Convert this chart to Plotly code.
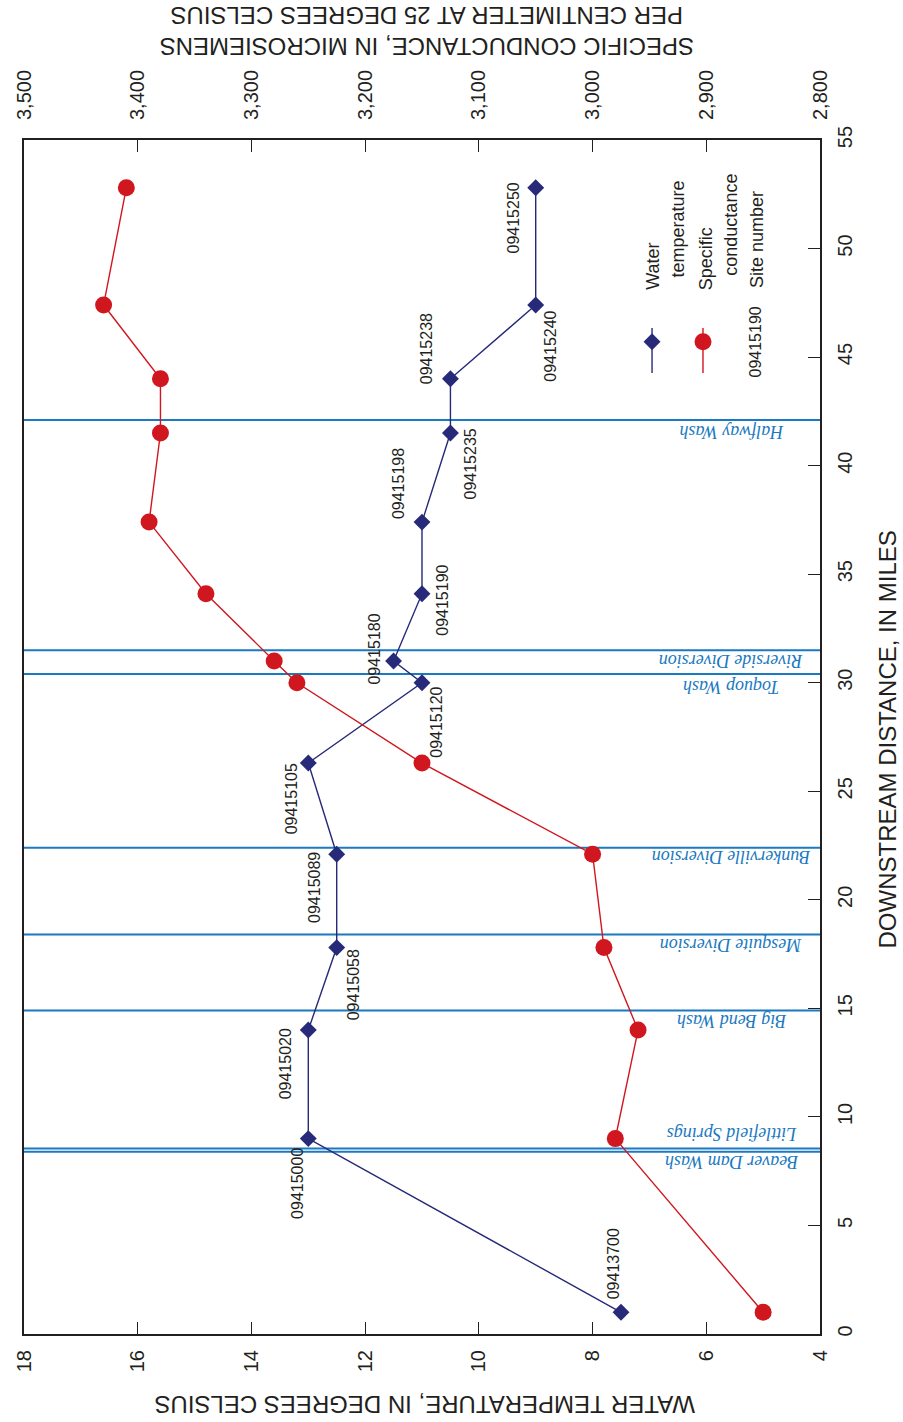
import plotly.graph_objects as go

# ---------------- data ----------------
distance = [1.0, 9.0, 14.0, 17.8, 22.1, 26.3, 30.0, 31.0, 34.1, 37.4, 41.5, 44.0, 47.4, 52.8]
water_temp = [7.5, 13.0, 13.0, 12.5, 12.5, 13.0, 11.0, 11.5, 11.0, 11.0, 10.5, 10.5, 9.0, 9.0]
conductance = [2850, 2980, 2960, 2990, 3000, 3150, 3260, 3280, 3340, 3390, 3380, 3380, 3430, 3410]
site_numbers = ["09413700", "09415000", "09415020", "09415058", "09415089", "09415105",
                "09415120", "09415180", "09415190", "09415198", "09415235", "09415238",
                "09415240", "09415250"]
feature_names = ["Beaver Dam Wash", "Littlefield Springs", "Big Bend Wash", "Mesquite Diversion",
                 "Bunkerville Diversion", "Toquop Wash", "Riverside Diversion", "Halfway Wash"]
feature_distance = [8.4, 8.55, 14.9, 18.4, 22.4, 30.4, 31.5, 42.1]
temp_ticks = [4, 6, 8, 10, 12, 14, 16, 18]
cond_ticks = [2800, 2900, 3000, 3100, 3200, 3300, 3400, 3500]
dist_ticks = [0, 5, 10, 15, 20, 25, 30, 35, 40, 45, 50, 55]

# ---------------- styles / label offsets (pixels) ----------------
NAVY = "#262a78"
RED = "#d0161e"
BLUE = "#1a79c0"
INK = "#231f20"
SANS = "Liberation Sans, Arial, sans-serif"
SERIF = "Liberation Serif, Times New Roman, serif"

site_offsets = [(-8, 48), (-11, -45), (-23, -34), (17, -37), (-22, -33), (-17, -36),
                (15, -40), (-20, 12), (21, -7), (-24, 38), (20, -31), (-24, 30),
                (15, -41), (-22, -30)]
feature_shift = [-11, 15, -11, -11, -10, -13, -11, -12]

fig = go.Figure()

fig.add_trace(go.Scatter(
    x=water_temp, y=distance, mode="lines+markers", xaxis="x", yaxis="y",
    line=dict(color=NAVY, width=1.4),
    marker=dict(symbol="diamond", size=13, color=NAVY),
    showlegend=False, hoverinfo="skip"))

fig.add_trace(go.Scatter(
    x=conductance, y=distance, mode="lines+markers", xaxis="x2", yaxis="y",
    line=dict(color=RED, width=1.4),
    marker=dict(symbol="circle", size=17, color=RED),
    showlegend=False, hoverinfo="skip"))

# legend symbols on an overlay axis pair spanning the plot area (0..1)
fig.add_trace(go.Scatter(
    x=[0.789], y=[0.831], mode="markers", xaxis="x3", yaxis="y3",
    marker=dict(symbol="diamond", size=13, color=NAVY), showlegend=False, hoverinfo="skip"))
fig.add_trace(go.Scatter(
    x=[0.853], y=[0.831], mode="markers", xaxis="x3", yaxis="y3",
    marker=dict(symbol="circle", size=17, color=RED), showlegend=False, hoverinfo="skip"))

shapes = []
for d in feature_distance:
    shapes.append(dict(type="line", xref="paper", x0=0, x1=1, yref="y", y0=d, y1=d,
                       line=dict(color=BLUE, width=2), layer="below"))
for xp, col in [(0.789, NAVY), (0.853, RED)]:
    shapes.append(dict(type="line", xref="paper", x0=xp, x1=xp, yref="paper",
                       y0=0.8049, y1=0.8425, line=dict(color=col, width=1.4)))

annotations = []
for name, d, sh in zip(feature_names, feature_distance, feature_shift):
    annotations.append(dict(
        text=name, xref="paper", yref="y", x=0.889, y=d, yshift=sh,
        xanchor="center", yanchor="middle", textangle=180, showarrow=False,
        font=dict(family=SERIF, size=18, color=BLUE, style="italic")))

for s, t, d, (dx, dy) in zip(site_numbers, water_temp, distance, site_offsets):
    annotations.append(dict(
        text=s, xref="x", yref="y", x=t, y=d, xshift=dx, yshift=dy,
        xanchor="center", yanchor="middle", textangle=-90, showarrow=False,
        font=dict(family=SANS, size=16, color=INK)))

# legend texts
legend_texts = [("Water", 651, 292), ("temperature", 676, 280), ("Specific", 705, 292),
                ("conductance", 730, 278), ("Site number", 756, 290)]
for txt, px, py in legend_texts:
    annotations.append(dict(
        text=txt, xref="paper", yref="paper", x=(px - 18) / 802, y=(1334 - py) / 1194,
        xanchor="center", yanchor="bottom", textangle=-90, showarrow=False,
        font=dict(family=SANS, size=18, color=INK)))
annotations.append(dict(
    text=site_numbers[8], xref="paper", yref="paper", x=(755 - 18) / 802, y=(1334 - 342) / 1194,
    xanchor="center", yanchor="middle", textangle=-90, showarrow=False,
    font=dict(family=SANS, size=16, color=INK)))

# axis titles
annotations.append(dict(
    text="WATER TEMPERATURE, IN DEGREES CELSIUS", xref="paper", yref="paper",
    x=(421 - 18) / 802, y=(1334 - 1405) / 1194, xanchor="center", yanchor="middle",
    textangle=180, showarrow=False, font=dict(family=SANS, size=24, color=INK)))
annotations.append(dict(
    text="SPECIFIC CONDUCTANCE, IN MICROSIEMENS<br>PER CENTIMETER AT 25 DEGREES CELSIUS",
    xref="paper", yref="paper", x=(424 - 18) / 802, y=(1334 - 31) / 1194,
    xanchor="center", yanchor="middle", textangle=180, showarrow=False,
    font=dict(family=SANS, size=24, color=INK)))
annotations.append(dict(
    text="DOWNSTREAM DISTANCE, IN MILES", xref="paper", yref="paper",
    x=(888 - 18) / 802, y=(1334 - 739) / 1194, xanchor="center", yanchor="middle",
    textangle=-90, showarrow=False, font=dict(family=SANS, size=24, color=INK)))

axis_common = dict(showgrid=False, zeroline=False, showline=True, linecolor=INK, linewidth=2,
                   ticks="inside", ticklen=12, tickwidth=1.3, tickcolor=INK, tickangle=-90,
                   tickfont=dict(family=SANS, size=20, color=INK))

fig.update_layout(
    width=903, height=1422,
    margin=dict(l=18, r=83, t=140, b=88),
    paper_bgcolor="white", plot_bgcolor="white",
    xaxis=dict(range=[18, 4], tickvals=temp_ticks, ticklabelstandoff=6, **axis_common),
    xaxis2=dict(range=[3500, 2800], tickvals=cond_ticks, tickformat=",", overlaying="x",
                side="top", anchor="y", ticklabelstandoff=14, **axis_common),
    yaxis=dict(range=[0, 55], tickvals=dist_ticks, side="right", mirror=True,
               ticklabelstandoff=6, **axis_common),
    xaxis3=dict(range=[0, 1], overlaying="x", visible=False),
    yaxis3=dict(range=[0, 1], overlaying="y", visible=False),
    shapes=shapes, annotations=annotations,
    showlegend=False,
)

fig.write_html(
    "out.html",
    config={"displayModeBar": False},
    post_script="document.body.style.margin='0';document.body.style.overflow='hidden';",
)
